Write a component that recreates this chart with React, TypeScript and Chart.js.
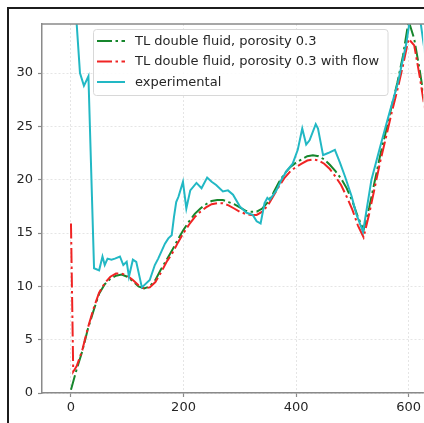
import React, { useEffect, useRef } from 'react';
import { Chart, registerables } from 'chart.js';

Chart.register(...registerables);

// ---------- data ----------
const seriesLabels = [
  'TL double fluid, porosity 0.3',
  'TL double fluid, porosity 0.3 with flow',
  'experimental',
];

const greenX = [0, 10, 20, 30, 40, 50, 60, 70, 80, 90, 100, 110, 120, 130, 140, 150, 160, 170, 180, 190, 200, 210, 220, 230, 240, 250, 260, 270, 280, 290, 300, 310, 320, 330, 340, 350, 360, 370, 380, 390, 400, 410, 420, 430, 440, 450, 460, 470, 480, 490, 500, 510, 520, 530, 540, 550, 560, 570, 580, 590, 600, 610, 620, 630];
const greenY = [0.3, 2.2, 3.9, 6.0, 7.7, 9.3, 10.2, 10.7, 11.0, 11.1, 10.9, 10.5, 10.0, 9.8, 10.0, 10.6, 11.6, 12.5, 13.4, 14.4, 15.3, 16.1, 16.8, 17.3, 17.7, 18.0, 18.1, 18.1, 17.9, 17.7, 17.4, 17.1, 17.0, 17.0, 17.3, 17.9, 18.8, 19.8, 20.6, 21.2, 21.6, 21.9, 22.2, 22.3, 22.2, 21.9, 21.4, 20.8, 20.1, 19.2, 18.0, 16.5, 15.3, 17.4, 19.9, 22.4, 24.6, 26.9, 29.1, 31.6, 34.9, 33.2, 30.2, 26.8];

const redX = [0, 4, 10, 20, 30, 40, 50, 60, 70, 80, 90, 100, 110, 120, 130, 140, 150, 160, 170, 180, 190, 200, 210, 220, 230, 240, 250, 260, 270, 280, 290, 300, 310, 320, 330, 340, 350, 360, 370, 380, 390, 400, 410, 420, 430, 440, 450, 460, 470, 480, 490, 500, 510, 520, 530, 540, 550, 560, 570, 580, 590, 600, 610, 620, 630];
const redY = [15.9, 2.0, 2.5, 4.0, 6.1, 7.9, 9.4, 10.3, 10.9, 11.2, 11.2, 11.0, 10.6, 10.1, 9.8, 9.9, 10.4, 11.3, 12.3, 13.1, 14.1, 15.0, 15.8, 16.5, 17.0, 17.4, 17.7, 17.8, 17.8, 17.6, 17.3, 17.0, 16.8, 16.7, 16.7, 17.0, 17.6, 18.5, 19.4, 20.2, 20.8, 21.2, 21.5, 21.8, 21.9, 21.8, 21.5, 21.0, 20.3, 19.5, 18.4, 17.2, 15.7, 14.6, 16.8, 19.3, 21.8, 24.0, 26.3, 28.4, 30.7, 33.2, 32.6, 29.6, 26.2];

const expX = [2, 16, 23, 31, 41, 50, 56, 60, 65, 72, 78, 87, 93, 99, 103, 110, 116, 126, 140, 149, 155, 167, 173, 179, 183, 187, 191, 199, 205, 212, 223, 232, 242, 250, 258, 270, 279, 288, 300, 312, 323, 330, 337, 344, 349, 353, 365, 374, 383, 394, 403, 411, 418, 424, 435, 439, 448, 457, 469, 478, 487, 499, 507, 519, 534, 549, 564, 581, 596, 608, 622, 634];
const expY = [41, 30, 28.8, 29.7, 11.7, 11.5, 12.8, 12.0, 12.6, 12.5, 12.6, 12.8, 12.0, 12.3, 10.9, 12.5, 12.3, 9.9, 10.6, 12.0, 12.6, 14.0, 14.5, 14.8, 16.5, 17.9, 18.4, 19.8, 17.3, 19.0, 19.7, 19.2, 20.2, 19.8, 19.5, 18.9, 19.0, 18.6, 17.5, 16.9, 16.7, 16.1, 15.9, 17.8, 18.3, 18.1, 19.0, 20.0, 20.8, 21.5, 22.8, 24.8, 23.3, 23.7, 25.2, 24.8, 22.3, 22.5, 22.8, 21.6, 20.3, 18.4, 16.8, 15.1, 20.0, 23.0, 25.9, 29.1, 32.8, 37.0, 34.5, 30.0];

const xTicks = [0, 200, 400, 600];
const yTicks = [0, 5, 10, 15, 20, 25, 30];
const xRange = [-51.5, 626];
const yRange = [0, 34.6];

// ---------- styles ----------
const FONT = '"DejaVu Sans", "Liberation Sans", sans-serif';
const GREEN = '#16862c';
const RED = '#f02424';
const CYAN = '#22b8c4';
const DASHDOT = [15, 3.5, 2.5, 3.5];
const SPINE = '#8a8a8a';
const TEXT = '#262626';

const pts = (xs: number[], ys: number[]) => xs.map((x, i) => ({ x, y: ys[i] }));

const framePlugin = {
  id: 'frameAndLegend',
  afterDraw(chart: any) {
    const { ctx, chartArea } = chart;
    ctx.save();
    // top spine
    ctx.strokeStyle = SPINE;
    ctx.lineWidth = 1.5;
    ctx.beginPath();
    ctx.moveTo(chartArea.left - 0.75, chartArea.top);
    ctx.lineTo(chartArea.right + 2, chartArea.top);
    ctx.stroke();

    // legend box
    const bx = 93.5, by = 29.5, bw = 294.5, bh = 66, r = 3;
    ctx.beginPath();
    ctx.moveTo(bx + r, by);
    ctx.lineTo(bx + bw - r, by);
    ctx.quadraticCurveTo(bx + bw, by, bx + bw, by + r);
    ctx.lineTo(bx + bw, by + bh - r);
    ctx.quadraticCurveTo(bx + bw, by + bh, bx + bw - r, by + bh);
    ctx.lineTo(bx + r, by + bh);
    ctx.quadraticCurveTo(bx, by + bh, bx, by + bh - r);
    ctx.lineTo(bx, by + r);
    ctx.quadraticCurveTo(bx, by, bx + r, by);
    ctx.closePath();
    ctx.fillStyle = 'rgba(255,255,255,0.85)';
    ctx.fill();
    ctx.strokeStyle = '#d8d8d8';
    ctx.lineWidth = 1;
    ctx.stroke();

    const rows = [41, 61.5, 82];
    chart.data.datasets.forEach((ds: any, i: number) => {
      const y = rows[i];
      ctx.save();
      ctx.strokeStyle = ds.borderColor;
      ctx.lineWidth = 2;
      ctx.lineCap = 'butt';
      ctx.setLineDash(ds.borderDash || []);
      ctx.beginPath();
      ctx.moveTo(97, y);
      ctx.lineTo(125, y);
      ctx.stroke();
      ctx.restore();
      ctx.fillStyle = TEXT;
      ctx.font = `13px ${FONT}`;
      ctx.textBaseline = 'middle';
      ctx.textAlign = 'left';
      ctx.fillText(ds.label, 135, y + 0.5);
    });
    ctx.restore();
  },
};

export default function App() {
  const ref = useRef<HTMLCanvasElement | null>(null);

  useEffect(() => {
    if (!ref.current) return;
    Chart.defaults.font.family = FONT;
    const chart = new Chart(ref.current, {
      type: 'line',
      data: {
        datasets: [
          {
            label: seriesLabels[0],
            data: pts(greenX, greenY),
            borderColor: GREEN,
            borderWidth: 2,
            borderDash: DASHDOT,
            pointRadius: 0,
            fill: false,
            tension: 0,
            order: 2,
          },
          {
            label: seriesLabels[1],
            data: pts(redX, redY),
            borderColor: RED,
            borderWidth: 2,
            borderDash: DASHDOT,
            pointRadius: 0,
            fill: false,
            tension: 0,
            order: 1,
          },
          {
            label: seriesLabels[2],
            data: pts(expX, expY),
            borderColor: CYAN,
            borderWidth: 2,
            pointRadius: 0,
            fill: false,
            tension: 0,
            order: 0,
          },
        ],
      },
      options: {
        animation: false,
        responsive: false,
        devicePixelRatio: 1,
        layout: { padding: { top: 24, left: 0, right: 0, bottom: 0 } },
        plugins: {
          legend: { display: false },
          tooltip: { enabled: false },
        },
        scales: {
          x: {
            type: 'linear',
            min: xRange[0],
            max: xRange[1],
            afterBuildTicks: (s: any) => {
              s.ticks = xTicks.map((v) => ({ value: v }));
            },
            afterFit: (s: any) => {
              s.height = 30;
            },
            ticks: {
              font: { size: 13, family: FONT },
              color: TEXT,
              padding: 3,
              maxRotation: 0,
              autoSkip: false,
            },
            grid: {
              color: 'rgba(0,0,0,0.13)',
              lineWidth: 0.8,
              drawTicks: true,
              tickLength: 4,
              tickColor: SPINE,
              tickWidth: 1.2,
            },
            border: { display: true, color: SPINE, width: 1.5, dash: [2, 2] },
          },
          y: {
            type: 'linear',
            min: yRange[0],
            max: yRange[1],
            afterBuildTicks: (s: any) => {
              s.ticks = yTicks.map((v) => ({ value: v }));
            },
            afterFit: (s: any) => {
              s.width = 42;
            },
            ticks: {
              font: { size: 13, family: FONT },
              color: TEXT,
              padding: 5,
              autoSkip: false,
            },
            grid: {
              color: 'rgba(0,0,0,0.13)',
              lineWidth: 0.8,
              drawTicks: true,
              tickLength: 4,
              tickColor: SPINE,
              tickWidth: 1.2,
            },
            border: { display: true, color: SPINE, width: 1.5, dash: [2, 2] },
          },
        },
      },
      plugins: [framePlugin],
    } as any);
    return () => chart.destroy();
  }, []);

  return (
    <div
      style={{
        position: 'fixed',
        left: 0,
        top: 0,
        width: 424,
        height: 423,
        overflow: 'hidden',
        background: '#fff',
      }}
    >
      <div
        style={{
          position: 'absolute',
          left: 7,
          top: 7,
          width: 600,
          height: 600,
          borderLeft: '2px solid #1c1c1c',
          borderTop: '2px solid #1c1c1c',
        }}
      />
      <canvas
        ref={ref}
        width={424}
        height={423}
        style={{ position: 'absolute', left: 0, top: 0, display: 'block' }}
      />
    </div>
  );
}
